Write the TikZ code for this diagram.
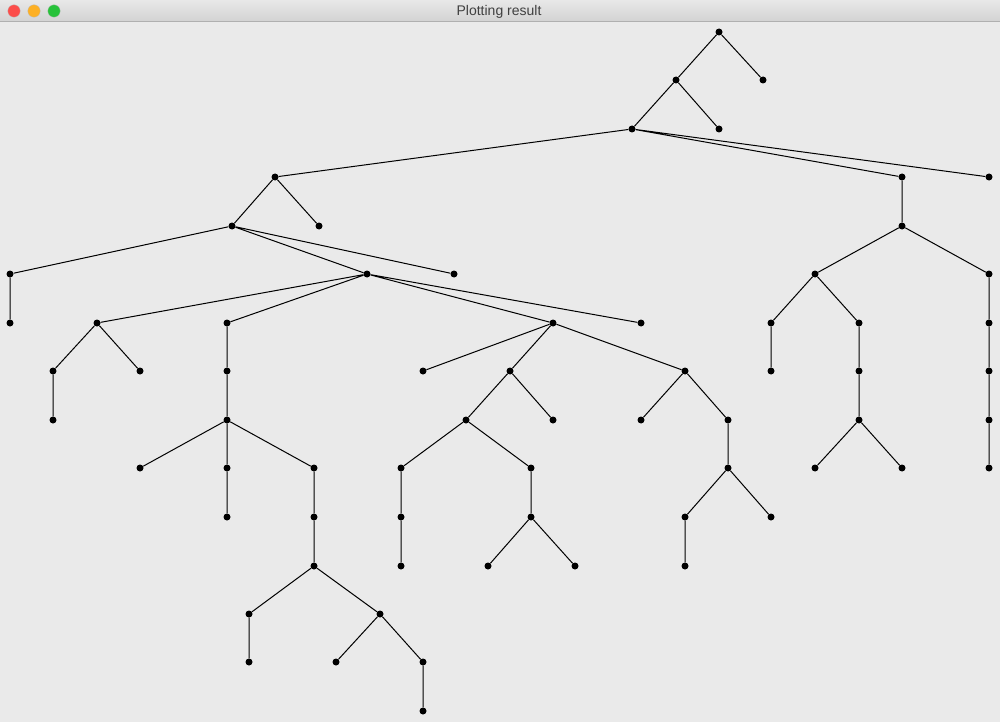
\documentclass[tikz,border=0pt]{standalone}
\usepackage{fontspec}
\setmainfont{Liberation Sans}
\definecolor{winbg}{HTML}{EAEAEA}
\definecolor{bartop}{HTML}{E8E8E8}
\definecolor{barbot}{HTML}{D2D2D2}
\definecolor{barline}{HTML}{B0B0B0}
\definecolor{tred}{HTML}{FC4D4A}
\definecolor{tyel}{HTML}{FDB024}
\definecolor{tgrn}{HTML}{27C23A}
\definecolor{titletxt}{HTML}{404040}
\tikzset{
  dot/.style={circle,fill=black,inner sep=0pt,minimum size=7pt},
  edge/.style={draw=black,line width=1pt},
  light/.style={circle,inner sep=0pt,minimum size=12.5pt,draw=black!25,line width=0.3pt}
}
\begin{document}
\begin{tikzpicture}[x=1pt,y=-1pt]
\useasboundingbox (0,0) rectangle (1000,722);
\fill[winbg] (0,0) rectangle (1000,722);
\shade[top color=bartop,bottom color=barbot] (0,0) rectangle (1000,21.5);
\draw[barline,line width=0.8pt] (0,21.5) -- (1000,21.5);
\node[light,fill=tred] (cl) at (14,11) {};
\node[light,fill=tyel] (mn) at (34,11) {};
\node[light,fill=tgrn] (mx) at (54,11) {};
\node[text=titletxt,font=\fontsize{14}{16}\selectfont,inner sep=0pt] (title) at (499,11.5) {Plotting result};
% level 0-5
\node[dot] (r) at (719,32) {};
\node[dot] (a) at (676,80) {};
\node[dot] (b) at (763,80) {};
\node[dot] (c) at (632,129) {};
\node[dot] (d) at (719,129) {};
\node[dot] (e) at (275,177) {};
\node[dot] (f) at (902,177) {};
\node[dot] (g) at (989,177) {};
\node[dot] (h) at (232,226) {};
\node[dot] (i) at (319,226) {};
\node[dot] (j) at (902,226) {};
\node[dot] (k) at (10,274) {};
\node[dot] (l) at (367,274) {};
\node[dot] (m) at (454,274) {};
\node[dot] (n) at (815,274) {};
\node[dot] (o) at (989,274) {};
% level 6
\node[dot] (p) at (10,323) {};
\node[dot] (q) at (97,323) {};
\node[dot] (s) at (227,323) {};
\node[dot] (t) at (553,323) {};
\node[dot] (u) at (641,323) {};
\node[dot] (v) at (771,323) {};
\node[dot] (w) at (859,323) {};
\node[dot] (x) at (989,323) {};
% level 7
\node[dot] (qa) at (53,371) {};
\node[dot] (qb) at (140,371) {};
\node[dot] (sa) at (227,371) {};
\node[dot] (ta) at (423,371) {};
\node[dot] (tb) at (510,371) {};
\node[dot] (tc) at (685,371) {};
\node[dot] (va) at (771,371) {};
\node[dot] (wa) at (859,371) {};
\node[dot] (xa) at (989,371) {};
% level 8
\node[dot] (qaa) at (53,420) {};
\node[dot] (sb) at (227,420) {};
\node[dot] (tba) at (466,420) {};
\node[dot] (tbb) at (553,420) {};
\node[dot] (tca) at (641,420) {};
\node[dot] (tcb) at (728,420) {};
\node[dot] (wb) at (859,420) {};
\node[dot] (xb) at (989,420) {};
% level 9
\node[dot] (sc1) at (140,468) {};
\node[dot] (sc2) at (227,468) {};
\node[dot] (sc3) at (314,468) {};
\node[dot] (tbaa) at (401,468) {};
\node[dot] (tbab) at (531,468) {};
\node[dot] (tcba) at (728,468) {};
\node[dot] (wc1) at (815,468) {};
\node[dot] (wc2) at (902,468) {};
\node[dot] (xc) at (989,468) {};
% level 10
\node[dot] (sd2) at (227,517) {};
\node[dot] (sd3) at (314,517) {};
\node[dot] (tbaa1) at (401,517) {};
\node[dot] (tbab1) at (531,517) {};
\node[dot] (tcb1) at (685,517) {};
\node[dot] (tcb2) at (771,517) {};
% level 11
\node[dot] (se3) at (314,566) {};
\node[dot] (tbaa2) at (401,566) {};
\node[dot] (tbab2) at (488,566) {};
\node[dot] (tbab3) at (575,566) {};
\node[dot] (tcb11) at (685,566) {};
% level 12
\node[dot] (sf1) at (249,614) {};
\node[dot] (sf2) at (380,614) {};
% level 13
\node[dot] (sg1) at (249,662) {};
\node[dot] (sg2) at (336,662) {};
\node[dot] (sg3) at (423,662) {};
% level 14
\node[dot] (sh) at (423,711) {};
% edges
\path[edge] (r) -- (a) (r) -- (b)
  (a) -- (c) (a) -- (d)
  (c) -- (e) (c) -- (f) (c) -- (g)
  (e) -- (h) (e) -- (i) (f) -- (j)
  (h) -- (k) (h) -- (l) (h) -- (m)
  (j) -- (n) (j) -- (o)
  (k) -- (p)
  (l) -- (q) (l) -- (s) (l) -- (t) (l) -- (u)
  (n) -- (v) (n) -- (w) (o) -- (x)
  (q) -- (qa) (q) -- (qb) (s) -- (sa)
  (t) -- (ta) (t) -- (tb) (t) -- (tc)
  (v) -- (va) (w) -- (wa) (x) -- (xa)
  (qa) -- (qaa) (sa) -- (sb)
  (tb) -- (tba) (tb) -- (tbb)
  (tc) -- (tca) (tc) -- (tcb)
  (wa) -- (wb) (xa) -- (xb)
  (sb) -- (sc1) (sb) -- (sc2) (sb) -- (sc3)
  (tba) -- (tbaa) (tba) -- (tbab)
  (tcb) -- (tcba)
  (wb) -- (wc1) (wb) -- (wc2) (xb) -- (xc)
  (sc2) -- (sd2) (sc3) -- (sd3)
  (tbaa) -- (tbaa1) (tbab) -- (tbab1)
  (tcba) -- (tcb1) (tcba) -- (tcb2)
  (sd3) -- (se3) (tbaa1) -- (tbaa2)
  (tbab1) -- (tbab2) (tbab1) -- (tbab3)
  (tcb1) -- (tcb11)
  (se3) -- (sf1) (se3) -- (sf2)
  (sf1) -- (sg1) (sf2) -- (sg2) (sf2) -- (sg3)
  (sg3) -- (sh);
\end{tikzpicture}
\end{document}
